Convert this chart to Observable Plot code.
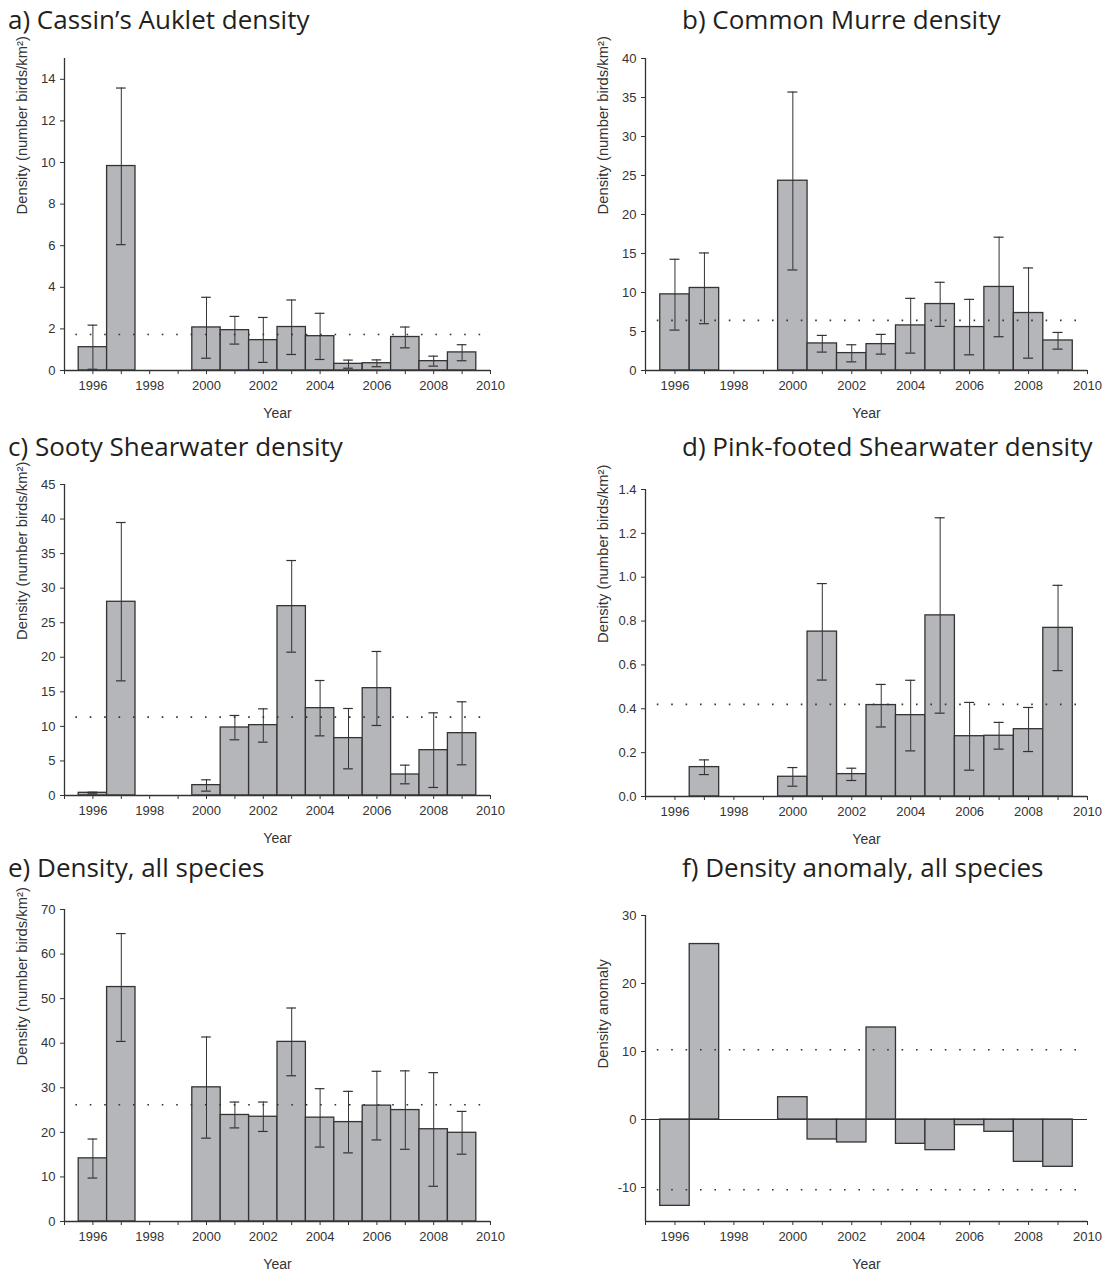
<!DOCTYPE html>
<html><head><meta charset="utf-8">
<script src="https://cdn.jsdelivr.net/npm/d3@7"></script>
<script src="https://cdn.jsdelivr.net/npm/@observablehq/plot@0.6"></script>
<style>
body{margin:0;background:#fff;}
#page{position:relative;width:1107px;height:1272px;overflow:hidden;background:#fff;}
.title{position:absolute;font-family:"Open Sans",sans-serif;font-size:26px;line-height:26px;color:#231f20;white-space:nowrap;}
.panel{position:absolute;}
</style></head><body><div id="page"></div>
<script>
const years = [1996,1997,1998,1999,2000,2001,2002,2003,2004,2005,2006,2007,2008,2009];
const xTicks = [1995,1996,1997,1998,1999,2000,2001,2002,2003,2004,2005,2006,2007,2008,2009,2010];

// a) Cassin's Auklet
const aukletVal = [1.12, 9.83, null, null, 2.07, 1.94, 1.46, 2.09, 1.65, 0.32, 0.35, 1.61, 0.45, 0.87];
const aukletLo  = [0.06, 6.05, null, null, 0.59, 1.27, 0.39, 0.77, 0.53, 0.11, 0.18, 1.09, 0.21, 0.47];
const aukletHi  = [2.18, 13.58, null, null, 3.52, 2.60, 2.55, 3.39, 2.75, 0.50, 0.51, 2.09, 0.69, 1.24];
const aukletMean = 1.73;
const aukletTicks = [0,2,4,6,8,10,12,14];

// b) Common Murre
const murreVal = [9.76, 10.58, null, null, 24.33, 3.47, 2.23, 3.38, 5.78, 8.52, 5.57, 10.71, 7.37, 3.85];
const murreLo  = [5.18, 6.0, null, null, 12.89, 2.36, 1.11, 2.10, 2.23, 5.65, 2.01, 4.33, 1.58, 2.74];
const murreHi  = [14.26, 15.07, null, null, 35.7, 4.50, 3.30, 4.63, 9.25, 11.31, 9.12, 17.09, 13.15, 4.88];
const murreMean = 6.42;
const murreTicks = [0,5,10,15,20,25,30,35,40];

// c) Sooty Shearwater
const sootyVal = [0.39, 28.03, null, null, 1.50, 9.84, 10.18, 27.4, 12.64, 8.30, 15.53, 3.04, 6.56, 9.02];
const sootyLo  = [0.24, 16.59, null, null, 0.63, 8.06, 7.72, 20.74, 8.63, 3.86, 10.13, 1.69, 1.16, 4.44];
const sootyHi  = [0.48, 39.5, null, null, 2.27, 11.58, 12.54, 34.0, 16.64, 12.59, 20.84, 4.39, 11.96, 13.56];
const sootyMean = 11.34;
const sootyTicks = [0,5,10,15,20,25,30,35,40,45];

// d) Pink-footed Shearwater
const pinkVal = [null, 0.134, null, null, 0.090, 0.752, 0.102, 0.417, 0.371, 0.826, 0.275, 0.277, 0.307, 0.769];
const pinkLo  = [null, 0.100, null, null, 0.047, 0.531, 0.073, 0.317, 0.208, 0.380, 0.120, 0.216, 0.205, 0.574];
const pinkHi  = [null, 0.167, null, null, 0.132, 0.971, 0.129, 0.511, 0.530, 1.271, 0.429, 0.338, 0.406, 0.963];
const pinkMean = 0.42;
const pinkTicks = [0,0.2,0.4,0.6,0.8,1.0,1.2,1.4];

// e) All species
const allVal = [14.17, 52.6, null, null, 30.1, 23.9, 23.5, 40.3, 23.3, 22.3, 26.0, 25.0, 20.7, 19.9];
const allLo  = [9.75, 40.4, null, null, 18.7, 21.0, 20.2, 32.7, 16.7, 15.4, 18.3, 16.2, 7.9, 15.1];
const allHi  = [18.5, 64.6, null, null, 41.4, 26.8, 26.8, 47.9, 29.8, 29.2, 33.7, 33.8, 33.4, 24.7];
const allMean = 26.2;
const allTicks = [0,10,20,30,40,50,60,70];

// f) Density anomaly
const anomVal = [-12.7, 25.8, null, null, 3.28, -2.94, -3.38, 13.53, -3.58, -4.51, -0.83, -1.81, -6.23, -6.96];
const anomBounds = [10.25, -10.34];
const anomTicks = [-10,0,10,20,30];

const titles = ["a) Cassin\u2019s Auklet density","b) Common Murre density","c) Sooty Shearwater density",
  "d) Pink-footed Shearwater density","e) Density, all species","f) Density anomaly, all species"];
const densityLabel = "Density (number birds/km\u00b2)";

const page = document.getElementById("page");
const INK = "#333";
const BAR = "#b5b6ba";

function addTitle(text, left, baseline){
  const d = document.createElement("div");
  d.className = "title";
  d.textContent = text;
  d.style.left = left + "px";
  d.style.top = (baseline - 23.1) + "px";
  page.appendChild(d);
}

function panel(cfg){
  const rows = years.map((year,i)=>({year, v: cfg.val[i], lo: cfg.lo ? cfg.lo[i] : null, hi: cfg.hi ? cfg.hi[i] : null}))
    .filter(d => d.v != null);
  const ymin = cfg.domain[0];
  const marks = [
    Plot.rect(rows, {x1: d=>d.year-0.5, x2: d=>d.year+0.5, y1: ()=>0, y2: "v", fill: BAR, stroke: INK, strokeWidth: 1.3}),
  ];
  if (cfg.lo){
    marks.push(
      Plot.ruleX(rows, {x: "year", y1: "lo", y2: "hi", stroke: INK, strokeWidth: 1}),
      Plot.ruleY(rows, {y: "hi", x1: d=>d.year-0.17, x2: d=>d.year+0.17, stroke: INK, strokeWidth: 1.2}),
      Plot.ruleY(rows, {y: "lo", x1: d=>d.year-0.17, x2: d=>d.year+0.17, stroke: INK, strokeWidth: 1.2})
    );
  }
  marks.push(Plot.ruleY(cfg.refs, {y: d=>d, x1: ()=>1995.4, x2: ()=>2010, stroke: INK, strokeWidth: 1.6, strokeDasharray: "1.6,12.8"}));
  if (cfg.zeroLine) marks.push(Plot.ruleY([0], {stroke: INK, strokeWidth: 1.2}));
  marks.push(
    Plot.ruleX([1995], {stroke: INK, strokeWidth: 1.3}),
    Plot.ruleY([ymin], {stroke: INK, strokeWidth: 1.3}),
    Plot.axisX({ticks: xTicks, tickFormat: d => d % 2 === 0 ? String(d) : "", tickSize: 4, tickPadding: 6.5, label: null, stroke: INK, fill: INK}),
    Plot.axisY({ticks: cfg.ticks, tickFormat: cfg.fmt || (d => String(d)), tickSize: 4, tickPadding: 5, label: null, stroke: INK, fill: INK}),
    Plot.text([cfg.yLabel], {text: d=>d, frameAnchor: "left", dx: -42, rotate: -90, lineAnchor: "middle", fontSize: 14.8, fill: INK}),
    Plot.text(["Year"], {text: d=>d, frameAnchor: "bottom", dy: 43, lineAnchor: "middle", fontSize: 14, fill: INK})
  );
  const svg = Plot.plot({
    width: cfg.width, height: cfg.height,
    marginLeft: cfg.ml, marginRight: cfg.mr, marginTop: cfg.mt, marginBottom: cfg.mb,
    x: {domain: [1995, 2010]},
    y: {domain: cfg.domain},
    style: {fontFamily: "'Liberation Sans', Arial, sans-serif", fontSize: "13px", color: INK, background: "transparent", overflow: "visible"},
    marks
  });
  const wrap = document.createElement("div");
  wrap.className = "panel";
  wrap.style.left = cfg.left + "px";
  wrap.style.top = cfg.top + "px";
  wrap.appendChild(svg);
  page.appendChild(wrap);
}

// left column: plot x 64..490 ; right column: plot x 645..1087
const L = {left: 0, width: 540, ml: 64, mr: 50};
const R = {left: 560, width: 547, ml: 85, mr: 20};

panel({...L, top: 40, height: 390, mt: 18, mb: 60, val: aukletVal, lo: aukletLo, hi: aukletHi, refs: [aukletMean], domain: [0,15], ticks: aukletTicks, yLabel: densityLabel});
panel({...R, top: 40, height: 390, mt: 18, mb: 60, val: murreVal, lo: murreLo, hi: murreHi, refs: [murreMean], domain: [0,40], ticks: murreTicks, yLabel: densityLabel});
panel({...L, top: 460, height: 400, mt: 24, mb: 65, val: sootyVal, lo: sootyLo, hi: sootyHi, refs: [sootyMean], domain: [0,45], ticks: sootyTicks, yLabel: densityLabel});
panel({...R, top: 460, height: 400, mt: 29, mb: 64, val: pinkVal, lo: pinkLo, hi: pinkHi, refs: [pinkMean], domain: [0,1.4], ticks: pinkTicks, fmt: d => d.toFixed(1), yLabel: densityLabel});
panel({...L, top: 890, height: 382, mt: 19, mb: 51, val: allVal, lo: allLo, hi: allHi, refs: [allMean], domain: [0,70], ticks: allTicks, yLabel: densityLabel});
panel({...R, top: 890, height: 382, mt: 25, mb: 51, val: anomVal, lo: null, hi: null, refs: anomBounds, zeroLine: true, domain: [-15,30], ticks: anomTicks, yLabel: "Density anomaly"});

addTitle(titles[0], 8, 29);
addTitle(titles[1], 682, 29);
addTitle(titles[2], 8, 456);
addTitle(titles[3], 682, 456);
addTitle(titles[4], 8, 877);
addTitle(titles[5], 682, 877);
</script></body></html>
